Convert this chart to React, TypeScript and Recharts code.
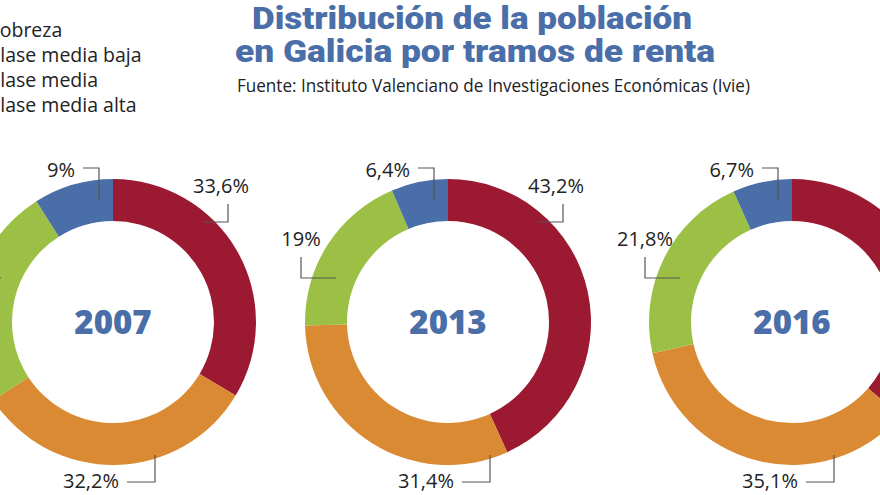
import React from 'react';
import { PieChart, Pie, Cell } from 'recharts';

// Years shown in the centre of each ring
const years = ['2007', '2013', '2016'];

// Share of population (%) per income band, one value per year
const pobreza = [9, 6.4, 6.7];
const claseMediaBaja = [25.2, 19, 21.8];
const claseMedia = [32.2, 31.4, 35.1];
const claseMediaAlta = [33.6, 43.2, 36.4];

// Legend order
const legendNames = ['Pobreza', 'Clase media baja', 'Clase media', 'Clase media alta'];

const COLORS: Record<string, string> = {
  'Pobreza': '#4a6ea7',
  'Clase media baja': '#9cbf45',
  'Clase media': '#da8a32',
  'Clase media alta': '#9b1a31',
};

const BLUE = '#4a6ea7';
const INK = '#222';
const LINE = '#555';
const FONT = '"Open Sans", sans-serif';
const W = 880;

// clockwise from 12 o'clock: red, orange, green, blue
const yearData = (i: number) => [
  { name: 'Clase media alta', value: claseMediaAlta[i] },
  { name: 'Clase media', value: claseMedia[i] },
  { name: 'Clase media baja', value: claseMediaBaja[i] },
  { name: 'Pobreza', value: pobreza[i] },
];

const fmt = (v: number) => String(v).replace('.', ',') + '%';

// elbow callouts, plus the year in the hole (drawn with the first slice)
const makeCallout = (year: string) => (props: any) => {
  const { cx, cy, value, name } = props;
  const txt = { fontFamily: FONT, fontSize: 20, fill: INK };
  const ln = { fill: 'none', stroke: LINE, strokeWidth: 1.2 };
  switch (name) {
    case 'Clase media alta':
      return (
        <g>
          <text x={cx} y={cy + 12} textAnchor="middle"
            style={{ fontFamily: FONT, fontSize: 33, fontWeight: 800, fill: BLUE }}>{year}</text>
          {/* the last ring's callout falls past the crop on the right */}
          {cx + 80 < W - 10 && (
            <>
              <text x={cx + 108} y={cy - 129} textAnchor="middle" {...txt}>{fmt(value)}</text>
              <polyline points={`${cx + 115},${cy - 118} ${cx + 115},${cy - 100} ${cx + 90},${cy - 100}`} {...ln} />
            </>
          )}
        </g>
      );
    case 'Clase media':
      return (
        <g>
          <text x={cx + 6} y={cy + 166} textAnchor="end" {...txt}>{fmt(value)}</text>
          <polyline points={`${cx + 14},${cy + 160} ${cx + 42},${cy + 160} ${cx + 42},${cy + 133}`} {...ln} />
        </g>
      );
    case 'Clase media baja':
      return (
        <g>
          <text x={cx - 147} y={cy - 76} textAnchor="middle" {...txt}>{fmt(value)}</text>
          <polyline points={`${cx - 147},${cy - 65} ${cx - 147},${cy - 44} ${cx - 112},${cy - 44}`} {...ln} />
        </g>
      );
    default:
      return (
        <g>
          <text x={cx - 38} y={cy - 145} textAnchor="end" {...txt}>{fmt(value)}</text>
          <polyline points={`${cx - 30},${cy - 154} ${cx - 14},${cy - 154} ${cx - 14},${cy - 122}`} {...ln} />
        </g>
      );
  }
};

const centers = [113, 448, 792];

export default function App() {
  return (
    <div style={{ position: 'absolute', left: 0, top: 0, width: W, height: 495, overflow: 'hidden', background: '#fff' }}>
      <PieChart width={W} height={495} margin={{ top: 0, right: 0, bottom: 0, left: 0 }}>
        {years.map((y, i) => (
          <Pie
            key={y}
            data={yearData(i)}
            dataKey="value"
            nameKey="name"
            cx={centers[i]}
            cy={322}
            innerRadius={101}
            outerRadius={143}
            startAngle={90}
            endAngle={-270}
            stroke="none"
            label={makeCallout(y)}
            labelLine={false}
            isAnimationActive={false}
          >
            {yearData(i).map((d) => (
              <Cell key={d.name} fill={COLORS[d.name]} />
            ))}
          </Pie>
        ))}
      </PieChart>
      {/* legend: swatches sit just past the left edge, as in the cropped original */}
      <div style={{ position: 'absolute', left: -35, top: 17, fontFamily: FONT, fontSize: 19.5, color: INK, lineHeight: '25px' }}>
        {legendNames.map((n) => (
          <div key={n} style={{ display: 'flex', alignItems: 'center', whiteSpace: 'nowrap' }}>
            <span style={{ display: 'inline-block', width: 14, height: 14, background: COLORS[n], marginRight: 9 }} />
            {n}
          </div>
        ))}
      </div>
      <svg width={W} height={110} style={{ position: 'absolute', left: 0, top: 0, pointerEvents: 'none' }}>
        <text x={252} y={29} textLength={440} lengthAdjust="spacingAndGlyphs"
          style={{ fontFamily: 'Roboto, sans-serif', fontSize: 31, fontWeight: 900, fill: BLUE }}>
          Distribución de la población
        </text>
        <text x={235} y={62} textLength={480} lengthAdjust="spacingAndGlyphs"
          style={{ fontFamily: 'Roboto, sans-serif', fontSize: 32, fontWeight: 900, fill: BLUE }}>
          en Galicia por tramos de renta
        </text>
        <text x={237} y={92} textLength={513} lengthAdjust="spacingAndGlyphs"
          style={{ fontFamily: FONT, fontSize: 18, fill: INK }}>
          Fuente: Instituto Valenciano de Investigaciones Económicas (Ivie)
        </text>
      </svg>
    </div>
  );
}
